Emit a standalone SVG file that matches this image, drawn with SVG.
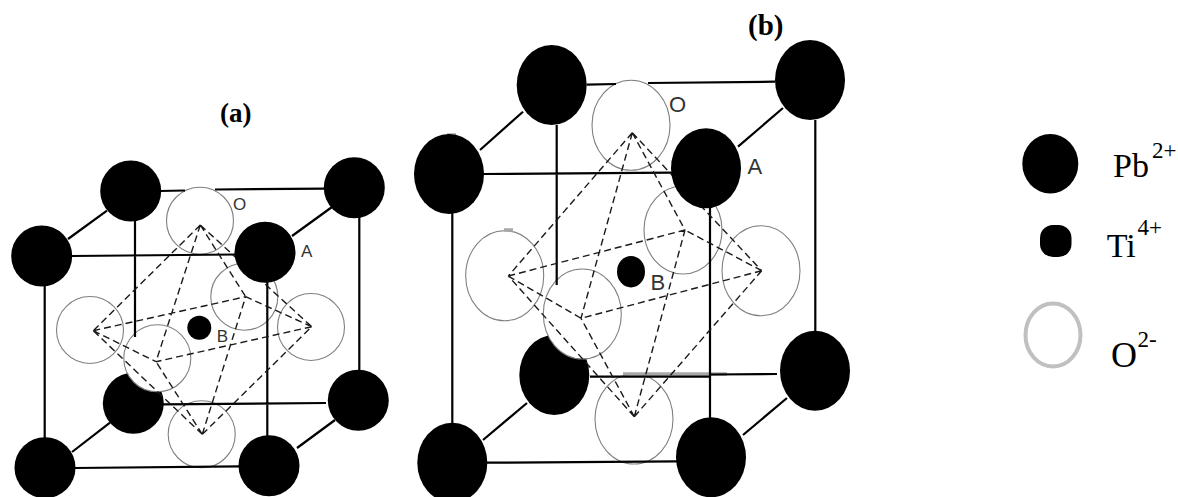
<svg xmlns="http://www.w3.org/2000/svg" width="1178" height="497" viewBox="0 0 1178 497">
<style>
.pb{fill:#000}
.o{fill:none;stroke:#808080;stroke-width:1.1}
.of{fill:#fff;stroke:#808080;stroke-width:1.1}
.s{stroke:#000;stroke-width:2.2;fill:none}
.d{stroke:#1a1a1a;stroke-width:1.4;stroke-dasharray:7 4;fill:none}
.g{stroke:#a8a8a8;stroke-width:3.5;fill:none}
.t{font-family:"Liberation Serif",serif;fill:#000}
.l{font-family:"Liberation Sans",sans-serif;fill:#333}
</style>
<rect width="1178" height="497" fill="#fff"/>
<g id="a-pb-bbl"><circle class="pb" cx="133.3" cy="403.3" r="30.5"/></g>
<g id="a-o-top"><circle class="o" cx="200" cy="220.7" r="33.5"/></g>
<g id="a-o-left"><circle class="o" cx="90" cy="330" r="33.5"/></g>
<g id="a-o-right"><circle class="o" cx="311" cy="327" r="33.5"/></g>
<g id="a-o-back"><circle class="o" cx="244.3" cy="296.7" r="33.5"/></g>
<g id="a-o-front"><circle class="of" cx="157.3" cy="358.3" r="33.5"/></g>
<g id="a-o-bottom"><circle class="o" cx="201.7" cy="434.3" r="33.5"/></g>
<g id="b-pb-bbl"><ellipse class="pb" cx="554.3" cy="375" rx="35" ry="40"/></g>
<g id="b-o-top"><ellipse class="o" cx="631" cy="125.3" rx="39" ry="45"/></g>
<g id="b-o-left"><ellipse class="o" cx="504.7" cy="275.7" rx="39" ry="45"/></g>
<g id="b-o-right"><ellipse class="o" cx="761" cy="270.7" rx="39" ry="45"/></g>
<g id="b-o-back"><ellipse class="o" cx="683" cy="230" rx="39" ry="44"/></g>
<g id="b-o-front"><ellipse class="of" cx="582.3" cy="314" rx="39" ry="45"/></g>
<g id="b-o-bottom"><ellipse class="o" cx="634" cy="419" rx="39" ry="45"/></g>
<g id="connectors">
<path class="g" d="M623 374H727M504 230H513M447 135H456"/>
<path class="s" d="M160 191L185 190.500M215 189.500L325 188.700M72 256L236 254.500M163 404.300L326 403M75 468L240 466.300M68 239L107 210.700M292 236L332 207M72 452L110 422.700M297 448L335 420M135 220V337M44.700 285V440M359.300 215V373M267.300 280V440"/>
<path class="s" d="M586.700 84.700L616 84M648 83L775 81.700M483 174L672 172.700M590 376.700L710 376.500M710 374.500L777 374M487 462.700L677 461.300M480 150L523 111.700M738 146.700L783 108M483 440L527 403M743 435L787 398M556.700 125V285M452.300 212V425M815.300 120V332M710 208V420"/>
<path class="d" d="M200.300 225L93.300 330.700M200.300 225L311.700 326.700M200.300 225L245.700 296.700M200.300 225L156 361.700M202.300 434.300L93.300 330.700M202.300 434.300L311.700 326.700M202.300 434.300L245.700 296.700M202.300 434.300L156 361.700M93.300 330.700L245.700 296.700M93.300 330.700L156 361.700M311.700 326.700L245.700 296.700M311.700 326.700L156 361.700"/>
<path class="d" d="M632.300 132.700L508.300 276M632.300 132.700L761.700 270.700M632.300 132.700L685 230M632.300 132.700L581 318.300M634.300 416.700L508.300 276M634.300 416.700L761.700 270.700M634.300 416.700L685 230M634.300 416.700L581 318.300M508.300 276L685 230M508.300 276L581 318.300M761.700 270.700L685 230M761.700 270.700L581 318.300"/>
</g>
<g id="a-pb-btl"><circle class="pb" cx="130.700" cy="191" r="30.500"/></g>
<g id="a-pb-btr"><circle class="pb" cx="354.300" cy="187.700" r="30.500"/></g>
<g id="a-pb-ftl"><circle class="pb" cx="41.700" cy="256" r="30.500"/></g>
<g id="a-pb-ftr"><circle class="pb" cx="265" cy="252.300" r="30.500"/></g>
<g id="a-pb-bbr"><circle class="pb" cx="358.300" cy="400.300" r="30.500"/></g>
<g id="a-pb-fbl"><circle class="pb" cx="45" cy="467.700" r="30.500"/></g>
<g id="a-pb-fbr"><circle class="pb" cx="269" cy="465.700" r="30.500"/></g>
<g id="a-ti"><circle class="pb" cx="199.300" cy="327.700" r="12"/></g>
<g id="b-pb-btl"><ellipse class="pb" cx="551.700" cy="85" rx="35" ry="40"/></g>
<g id="b-pb-btr"><ellipse class="pb" cx="810" cy="80" rx="35" ry="40"/></g>
<g id="b-pb-ftl"><ellipse class="pb" cx="449" cy="174" rx="35" ry="40"/></g>
<g id="b-pb-ftr"><ellipse class="pb" cx="706" cy="168.300" rx="35" ry="40"/></g>
<g id="b-pb-bbr"><ellipse class="pb" cx="815" cy="370.700" rx="35" ry="40"/></g>
<g id="b-pb-fbl"><ellipse class="pb" cx="452.300" cy="462.700" rx="35" ry="40"/></g>
<g id="b-pb-fbr"><ellipse class="pb" cx="711" cy="457.300" rx="35" ry="40"/></g>
<g id="b-ti"><ellipse class="pb" cx="631" cy="271.700" rx="14" ry="15.700"/></g>
<g id="labels">
<text class="t" x="220" y="122" font-size="27" font-weight="bold">(a)</text>
<text class="t" x="748" y="35" font-size="29" font-weight="bold">(b)</text>
<text class="l" x="233" y="210" font-size="17">O</text>
<text class="l" x="301" y="256.700" font-size="17">A</text>
<text class="l" x="216.700" y="341.700" font-size="17">B</text>
<text class="l" x="669" y="111.700" font-size="22">O</text>
<text class="l" x="747.500" y="174" font-size="22">A</text>
<text class="l" x="650.500" y="290" font-size="22">B</text>
</g>
<g id="legend-pb"><ellipse class="pb" cx="1050.300" cy="163.700" rx="28" ry="29.700"/>
<text class="t" x="1113" y="176.700" font-size="34">Pb</text><text class="t" x="1152" y="158" font-size="23">2+</text></g>
<g id="legend-ti"><rect class="pb" x="1040" y="225" width="31.500" height="32" rx="13"/>
<text class="t" x="1106.700" y="256.700" font-size="34">Ti</text><text class="t" x="1137.500" y="235" font-size="23">4+</text></g>
<g id="legend-o"><ellipse cx="1053" cy="335" rx="27.500" ry="31.500" fill="#fff" stroke="#c0c0c0" stroke-width="4"/>
<text class="t" x="1111" y="367" font-size="36">O</text><text class="t" x="1137.500" y="346.700" font-size="23">2-</text></g>
</svg>
